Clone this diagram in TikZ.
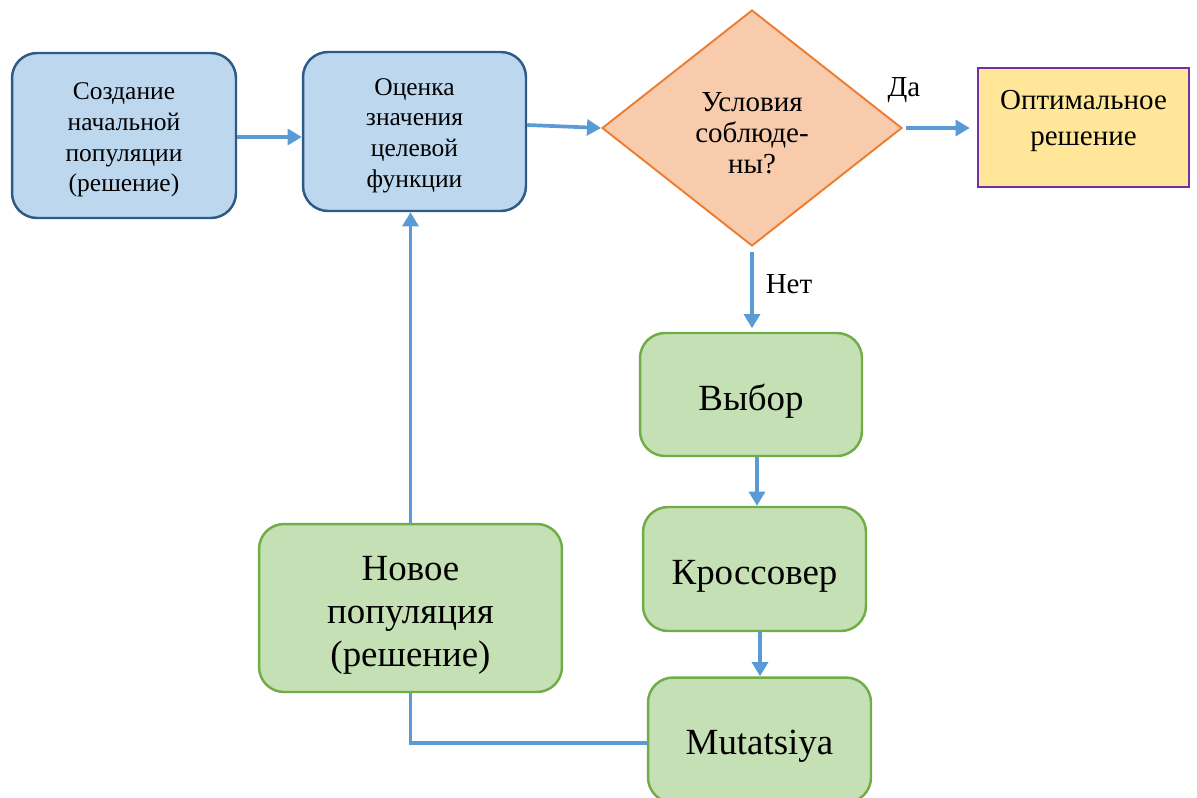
\documentclass[tikz,border=0pt]{standalone}
\usepackage{fontspec}
\setmainfont{Liberation Serif}
\usetikzlibrary{shapes.geometric,arrows.meta}
\definecolor{bluefill}{HTML}{BDD7EE}
\definecolor{blueline}{HTML}{2E5A87}
\definecolor{greenfill}{HTML}{C5E0B4}
\definecolor{greenline}{HTML}{70AD47}
\definecolor{orangefill}{HTML}{F8CBAD}
\definecolor{orangeline}{HTML}{ED7D31}
\definecolor{yellowfill}{HTML}{FFE699}
\definecolor{purpleline}{HTML}{7030A0}
\definecolor{arrowblue}{HTML}{5B9BD5}
\tikzset{
  smalltext/.style={font=\fontsize{14.5}{17.5}\selectfont,align=center},
  midtext/.style={font=\fontsize{16.5}{17.6}\selectfont,align=center},
  resulttext/.style={font=\fontsize{16.5}{20}\selectfont,align=center},
  bigtext/.style={font=\fontsize{21}{24.5}\selectfont,align=center},
  bluebox/.style={draw=blueline,fill=bluefill,line width=1.4pt,rounded corners=0.5cm,inner sep=0pt},
  greenbox/.style={draw=greenline,fill=greenfill,line width=1.4pt,rounded corners=0.5cm,inner sep=0pt},
  decision/.style={diamond,draw=orangeline,fill=orangefill,line width=1.1pt,inner sep=0pt},
  resultbox/.style={draw=purpleline,fill=yellowfill,line width=1.4pt,inner sep=0pt},
  flow/.style={draw=arrowblue,line width=2.1pt,-{Triangle[length=8pt,width=9pt]}},
  flowline/.style={draw=arrowblue,line width=2.1pt},
}
\begin{document}
\begin{tikzpicture}[x=0.02cm,y=-0.02cm]
\useasboundingbox (0,0) rectangle (1197,798);
% blue boxes
\node[bluebox,minimum width=4.48cm,minimum height=3.3cm] (init) at (124,135.5) {};
\node[smalltext] (inittext) at (124,140) {Создание\\начальной\\популяции\\(решение)};
\node[bluebox,minimum width=4.46cm,minimum height=3.18cm] (eval) at (414.5,131.5) {};
\node[smalltext] (evaltext) at (414.5,135.5) {Оценка\\значения\\целевой\\функции};
% decision
\node[decision,minimum width=6cm,minimum height=4.72cm] (cond) at (752,128) {};
\node[midtext] (condtext) at (752,133) {Условия\\соблюде-\\ны?};
\node[resultbox,minimum width=4.22cm,minimum height=2.38cm] (best) at (1083.5,127.5) {};
\node[resulttext] (besttext) at (1083.5,121) {Оптимальное\\решение};
% green boxes
\node[greenbox,minimum width=4.44cm,minimum height=2.46cm] (select) at (751,394.5) {};
\node[bigtext] (selecttext) at (751,401) {Выбор};
\node[greenbox,minimum width=4.46cm,minimum height=2.48cm] (cross) at (754.5,569) {};
\node[bigtext] (crosstext) at (754.5,576) {Кроссовер};
\node[greenbox,minimum width=4.46cm,minimum height=2.5cm] (mutate) at (759.5,740) {};
\node[bigtext] (mutatetext) at (759.5,746) {Mutatsiya};
\node[greenbox,minimum width=6.06cm,minimum height=3.36cm] (newpop) at (410.5,608) {};
\node[bigtext] (newpoptext) at (410.5,615) {Новое\\популяция\\(решение)};
% labels
\node[midtext] (yes) at (904,90) {Да};
\node[midtext] (no) at (789,284) {Нет};
% connectors
\draw[flow] (init.east |- 0,137) -- (eval.west |- 0,137);
\draw[flow] (eval.east |- 0,125) -- (cond.west);
\draw[flow,shorten <=2pt,shorten >=4pt] (cond.east) -- (best.west |- cond.east);
\draw[flow,shorten <=3pt,shorten >=2pt] (cond.south) -- (select.north -| cond.south);
\draw[flow] (select.south -| 757,0) -- (cross.north -| 757,0);
\draw[flow] (cross.south -| 760,0) -- (mutate.north -| 760,0);
\draw[flowline] (mutate.west |- 0,743) -| (newpop.south);
\draw[flow] (newpop.north) -- (eval.south -| newpop.north);
\end{tikzpicture}
\end{document}
